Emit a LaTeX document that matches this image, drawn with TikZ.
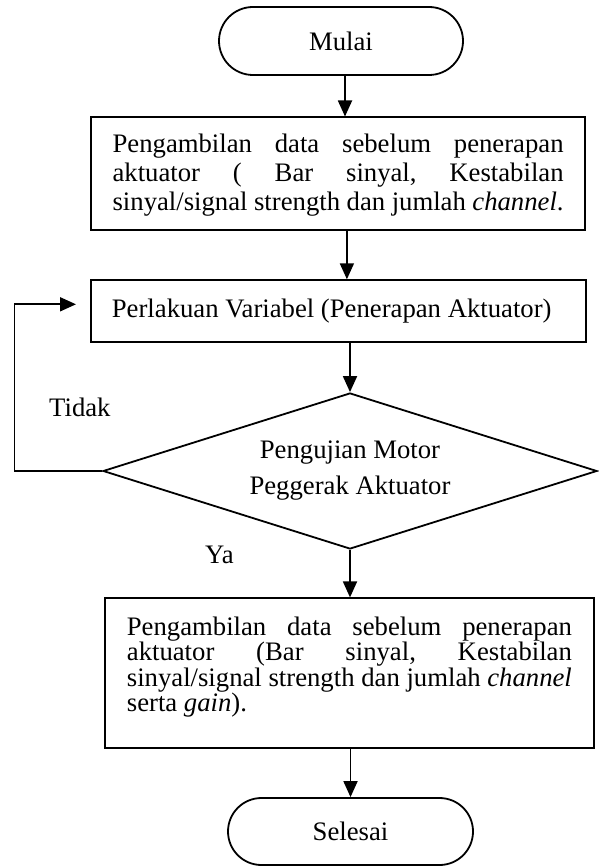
\documentclass[tikz,border=0pt]{standalone}
\usepackage{fontspec}
\setmainfont{Liberation Serif}
\usetikzlibrary{shapes.geometric,shapes.misc,arrows.meta}
\newcommand{\jl}[1]{\makebox[\linewidth][s]{#1}}
\frenchspacing
\begin{document}
\begin{tikzpicture}[x=1pt,y=1pt,
  font=\fontsize{26.7}{29.2}\selectfont,
  term/.style={rounded rectangle, draw, line width=1.8pt, inner sep=0pt},
  proc/.style={rectangle, draw, line width=1.8pt, inner ysep=0pt, anchor=north west},
  dec/.style={diamond, draw, line width=1.8pt, inner sep=0pt, aspect=3.17, align=center},
  arr/.style={line width=1.8pt, -{Triangle[length=16pt,width=14pt]}},
  lbl/.style={inner sep=0pt, anchor=base west}]
\useasboundingbox (0,0) rectangle (598,-866);

\node[term, minimum width=244pt, minimum height=68pt] (mulai) at (341,-41) {Mulai};

\node[proc, inner xsep=21.7pt] (box1) at (90,-116.5)
  {\parbox[c][112.5pt][t]{451pt}{\fontsize{26.7}{29.2}\selectfont\rule{0pt}{35.2pt}\jl{Pengambilan data sebelum penerapan}\\
   \jl{aktuator ( Bar sinyal, Kestabilan}\\
   \jl{sinyal/signal strength dan jumlah \textit{channel}.}}};

\node[proc, inner xsep=21pt, minimum height=61.7pt] (box2) at (90,-279.3)
  {\makebox[453pt][l]{Perlakuan Variabel (Penerapan Aktuator)}};

\node[dec, minimum width=494pt, minimum height=156pt, font=\fontsize{26.7}{36}\selectfont] (dia) at (350,-471)
  {Pengujian Motor\\Peggerak Aktuator};

\node[proc, inner xsep=22pt] (box3) at (104,-597.4)
  {\parbox[c][150pt][t]{445pt}{\fontsize{26.7}{25.5}\selectfont\rule{0pt}{36.7pt}\jl{Pengambilan data sebelum penerapan}\\
   \jl{aktuator (Bar sinyal, Kestabilan}\\
   \jl{sinyal/signal strength dan jumlah \textit{channel}}\\
   serta \textit{gain}).}};

\node[term, minimum width=245pt, minimum height=67pt] (sel) at (350.5,-831.5) {Selesai};

\node[lbl] (tidak) at (49,-416.7) {Tidak};
\node[lbl] (ya) at (205,-563) {Ya};

\coordinate (loopend) at (76,-304.3);

\draw[arr] ([xshift=4pt]mulai.south) -- ([xshift=4pt]mulai.south |- box1.north);
\draw[arr] ([xshift=8.8pt]box1.south) -- ([xshift=8.8pt]box1.south |- box2.north);
\draw[arr] (box2.south -| dia.north) -- (dia.north);
\draw[arr] (dia.south) -- (dia.south |- box3.north);
\draw[arr] (box3.south -| sel.north) -- (sel.north);
\draw[arr] (dia.west) -- ++(-87.7,0) |- (loopend);
\end{tikzpicture}
\end{document}
